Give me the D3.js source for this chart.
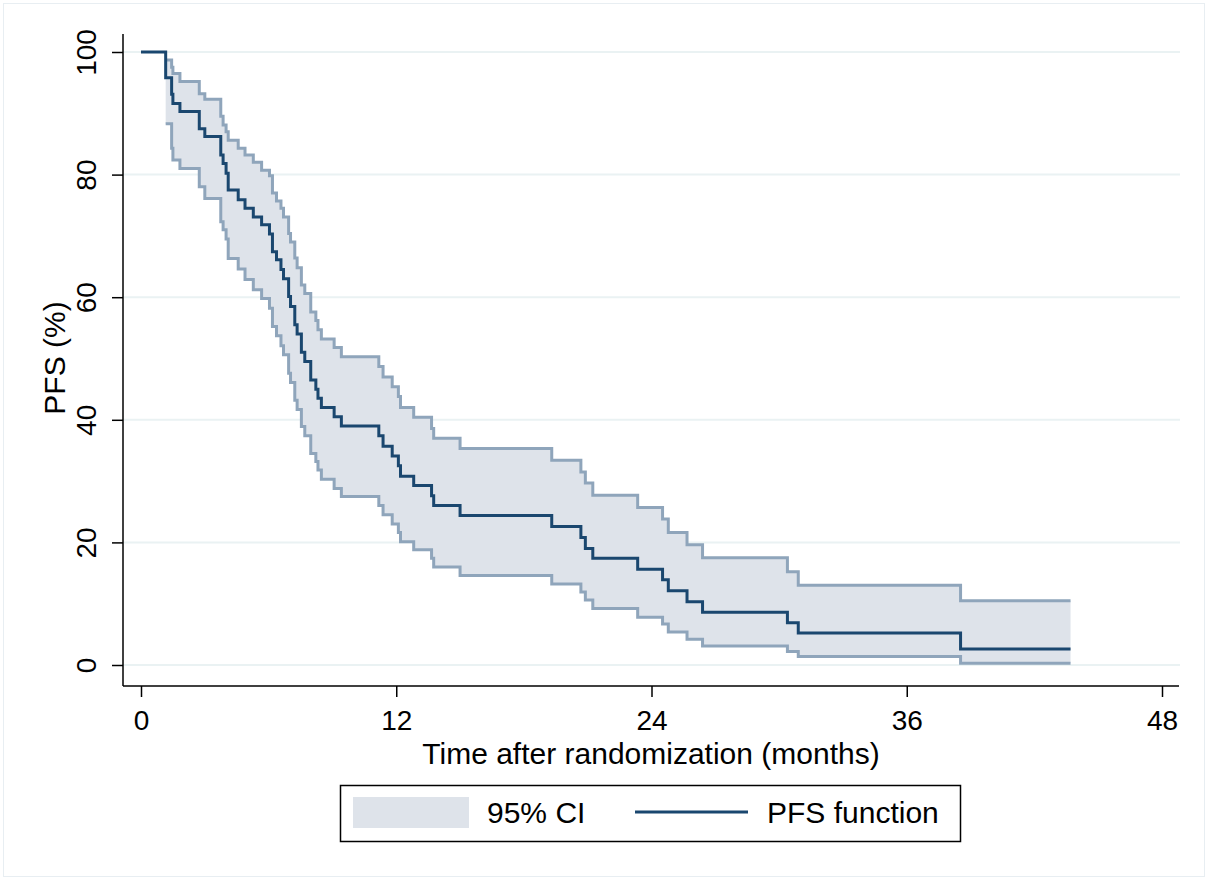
<!DOCTYPE html>
<html>
<head>
<meta charset="utf-8">
<script src="https://cdn.jsdelivr.net/npm/d3@7/dist/d3.min.js"></script>
<style>
  body { margin: 0; background: #fff; }
  text { font-family: "Liberation Sans", Arial, sans-serif; }
</style>
</head>
<body>
<div id="chart"></div>
<script>
// Kaplan-Meier step times (months) and estimates (%)
const times = [1.16, 1.44, 1.50, 1.83, 2.74, 3.0, 3.75, 3.86, 4.0, 4.1, 4.57, 4.89, 5.28, 5.67,
  6.04, 6.18, 6.37, 6.58, 6.70, 6.94, 7.03, 7.23, 7.34, 7.54, 7.70, 7.98, 8.22, 8.32, 8.48,
  9.08, 9.42, 11.18, 11.38, 11.81, 12.1, 12.2, 12.82, 13.66, 13.76, 15.0, 19.31, 20.68,
  20.89, 21.24, 23.35, 24.52, 24.79, 25.67, 26.4, 30.39, 30.9, 38.53];
const pfs = [95.8, 93.1, 91.6, 90.3, 87.5, 86.2, 83.2, 81.8, 80.2, 77.5, 75.9, 74.5, 73.1, 71.8,
  70.3, 67.4, 66.1, 64.5, 63.0, 60.1, 58.5, 55.5, 54.0, 51.0, 49.5, 46.5, 45.0, 43.5, 42.0,
  40.5, 39.0, 37.4, 35.7, 34.1, 32.5, 30.8, 29.3, 27.6, 26.0, 24.4, 22.6, 20.8,
  19.0, 17.4, 15.6, 13.9, 12.1, 10.3, 8.6, 6.9, 5.2, 2.6];
const ciLower = [88.3, 84.3, 82.4, 81.0, 78.0, 76.1, 72.3, 71.0, 69.5, 66.3, 64.6, 62.9, 61.2, 59.8,
  58.2, 55.2, 53.7, 52.1, 50.6, 47.6, 46.1, 43.2, 41.7, 38.9, 37.4, 34.5, 33.2, 31.8, 30.3,
  28.8, 27.5, 26.0, 24.5, 23.0, 21.6, 20.1, 18.8, 17.4, 16.0, 14.6, 13.2, 11.9,
  10.6, 9.2, 7.8, 6.7, 5.4, 4.2, 3.1, 2.2, 1.4, 0.3];
const ciUpper = [98.7, 97.5, 96.5, 95.2, 93.2, 92.3, 89.5, 88.1, 87.0, 85.6, 84.3, 83.2, 82.0, 80.7,
  79.8, 77.0, 75.7, 74.5, 73.1, 70.4, 69.0, 66.4, 64.8, 62.0, 60.6, 57.6, 56.2, 54.7, 53.2,
  51.8, 50.3, 48.7, 47.0, 45.4, 43.8, 42.0, 40.4, 38.6, 37.0, 35.3, 33.4, 31.5,
  29.7, 27.7, 25.7, 23.8, 21.6, 19.6, 17.5, 15.2, 13.0, 10.5];
const lastTime = 43.7;

const xTicks = [0, 12, 24, 36, 48];
const yTicks = [0, 20, 40, 60, 80, 100];
const legendLabels = ["95% CI", "PFS function"];

const width = 1208, height = 880;
const tickFont = 28, titleFont = 30;
const navy = "#1a476f", ciLine = "#8fa5bb", ciFill = "#dee3ea";

const svg = d3.select("#chart")
  .append("svg")
  .attr("width", width)
  .attr("height", height);

// faint outer frame
svg.append("rect")
  .attr("x", 3.5).attr("y", 3.5)
  .attr("width", width - 7).attr("height", height - 7)
  .attr("fill", "#fff")
  .attr("stroke", "#e8eef2");

const x = d3.scaleLinear().domain([0, 48]).range([141, 1162]);
const y = d3.scaleLinear().domain([0, 100]).range([665, 52]);

const axisX = 123, axisY = 686;

// gridlines
svg.append("g")
  .selectAll("line")
  .data(yTicks)
  .join("line")
  .attr("x1", axisX).attr("x2", 1180)
  .attr("y1", d => y(d)).attr("y2", d => y(d))
  .attr("stroke", "#eaf2f3")
  .attr("stroke-width", 2);

// step data
const ci = times.map((t, i) => ({ t, lo: ciLower[i], hi: ciUpper[i] }));
ci.push({ t: lastTime, lo: ciLower[ciLower.length - 1], hi: ciUpper[ciUpper.length - 1] });

const km = [{ t: 0, s: 100 }].concat(times.map((t, i) => ({ t, s: pfs[i] })));
km.push({ t: lastTime, s: pfs[pfs.length - 1] });

// CI band
svg.append("path")
  .datum(ci)
  .attr("fill", ciFill)
  .attr("d", d3.area()
    .curve(d3.curveStepAfter)
    .x(d => x(d.t))
    .y0(d => y(d.lo))
    .y1(d => y(d.hi)));

["lo", "hi"].forEach(k => {
  svg.append("path")
    .datum(ci)
    .attr("fill", "none")
    .attr("stroke", ciLine)
    .attr("stroke-width", 3)
    .attr("d", d3.line()
      .curve(d3.curveStepAfter)
      .x(d => x(d.t))
      .y(d => y(d[k])));
});

// PFS curve
svg.append("path")
  .datum(km)
  .attr("fill", "none")
  .attr("stroke", navy)
  .attr("stroke-width", 3)
  .attr("d", d3.line()
    .curve(d3.curveStepAfter)
    .x(d => x(d.t))
    .y(d => y(d.s)));

// axes
const gy = svg.append("g")
  .attr("transform", `translate(${axisX},0)`)
  .call(d3.axisLeft(y).tickValues(yTicks).tickSize(11).tickSizeOuter(0));
gy.select(".domain").remove();
gy.selectAll("line").attr("stroke", "#000").attr("stroke-width", 1.5);
gy.selectAll("text")
  .attr("transform", "rotate(-90)")
  .attr("x", 0).attr("y", -27).attr("dy", 0)
  .attr("text-anchor", "middle")
  .attr("font-size", tickFont)
  .attr("fill", "#000");

const gx = svg.append("g")
  .attr("transform", `translate(0,${axisY})`)
  .call(d3.axisBottom(x).tickValues(xTicks).tickSize(11).tickSizeOuter(0));
gx.select(".domain").remove();
gx.selectAll("line").attr("stroke", "#000").attr("stroke-width", 1.5);
gx.selectAll("text")
  .attr("y", 44).attr("dy", 0)
  .attr("font-size", tickFont)
  .attr("fill", "#000");

svg.append("line")
  .attr("x1", axisX).attr("x2", axisX)
  .attr("y1", 34).attr("y2", axisY)
  .attr("stroke", "#000").attr("stroke-width", 1.5);
svg.append("line")
  .attr("x1", axisX).attr("x2", 1179)
  .attr("y1", axisY).attr("y2", axisY)
  .attr("stroke", "#000").attr("stroke-width", 1.5);

// axis titles
svg.append("text")
  .attr("x", 651).attr("y", 764)
  .attr("text-anchor", "middle")
  .attr("font-size", titleFont)
  .text("Time after randomization (months)");

svg.append("text")
  .attr("transform", `translate(65,358) rotate(-90)`)
  .attr("text-anchor", "middle")
  .attr("font-size", titleFont)
  .text("PFS (%)");

// legend
const legend = svg.append("g");
legend.append("rect")
  .attr("x", 340.5).attr("y", 785.5)
  .attr("width", 620).attr("height", 56)
  .attr("fill", "#fff")
  .attr("stroke", "#000").attr("stroke-width", 1.5);
legend.append("rect")
  .attr("x", 353).attr("y", 797)
  .attr("width", 116).attr("height", 31)
  .attr("fill", ciFill);
legend.append("text")
  .attr("x", 487).attr("y", 823)
  .attr("font-size", titleFont)
  .text(legendLabels[0]);
legend.append("line")
  .attr("x1", 635).attr("x2", 748)
  .attr("y1", 812).attr("y2", 812)
  .attr("stroke", navy).attr("stroke-width", 3);
legend.append("text")
  .attr("x", 767).attr("y", 823)
  .attr("font-size", titleFont)
  .text(legendLabels[1]);
</script>
</body>
</html>
